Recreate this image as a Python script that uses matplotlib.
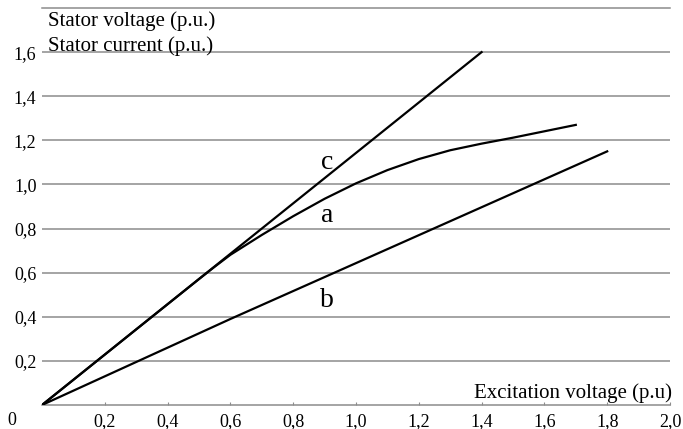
import matplotlib
matplotlib.use("Agg")
import matplotlib.pyplot as plt

# Excitation characteristics (per-unit)
c_x = [0.0, 1.40]
c_y = [0.0, 1.60]

a_x = [0.0, 0.3, 0.5, 0.55, 0.6, 0.7, 0.8, 0.9, 1.0, 1.1, 1.2, 1.3, 1.4, 1.5, 1.6, 1.7]
a_y = [0.0, 0.343, 0.571, 0.627, 0.681, 0.771, 0.856, 0.935, 1.005, 1.065, 1.115, 1.155, 1.185, 1.212, 1.241, 1.27]

b_x = [0.0, 0.3, 0.6, 0.9, 1.2, 1.5, 1.8]
b_y = [0.0, 0.195, 0.39, 0.58, 0.77, 0.96, 1.15]

x_ticks = [0.2, 0.4, 0.6, 0.8, 1.0, 1.2, 1.4, 1.6, 1.8, 2.0]
x_labels = ["0,2", "0,4", "0,6", "0,8", "1,0", "1,2", "1,4", "1,6", "1,8", "2,0"]
y_ticks = [0.2, 0.4, 0.6, 0.8, 1.0, 1.2, 1.4, 1.6]
y_labels = ["0,2", "0,4", "0,6", "0,8", "1,0", "1,2", "1,4", "1,6"]

curve_labels = ["c", "a", "b"]
curve_label_pos = [(0.908, 1.069), (0.908, 0.831), (0.908, 0.443)]

plt.rcParams["font.family"] = ["Liberation Serif", "DejaVu Serif"]

fig = plt.figure(figsize=(6.83, 4.29), dpi=100)
ax = fig.add_axes([42 / 683, 24 / 429, 628 / 683, 397 / 429])
ax.set_xlim(0, 2.0)
ax.set_ylim(0, 1.8)

grid_col = "#8c8c8c"
for side in ("left", "right"):
    ax.spines[side].set_visible(False)
for side in ("top", "bottom"):
    ax.spines[side].set_color(grid_col)
    ax.spines[side].set_linewidth(1.1)

for yv in y_ticks:
    ax.axhline(yv, color=grid_col, lw=1.1, zorder=1)

line_kw = dict(color="black", lw=1.6, zorder=3, solid_joinstyle="round")
ax.plot(c_x, c_y, **line_kw)
ax.plot(a_x, a_y, **line_kw)
ax.plot(b_x, b_y, **line_kw)

ax.set_xticks(x_ticks)
ax.set_xticklabels(x_labels, fontsize=13)
ax.set_yticks(y_ticks)
ax.set_yticklabels(y_labels, fontsize=13)
ax.tick_params(axis="x", direction="in", length=2.5, color=grid_col, pad=6)
ax.tick_params(axis="y", length=0, pad=4)

# origin label on the x-axis row
ax.text(-0.095, -0.03, "0", fontsize=13, ha="center", va="top")

for lab, (lx, ly) in zip(curve_labels, curve_label_pos):
    ax.text(lx, ly, lab, fontsize=20, ha="center", va="baseline")

ax.text(0.02, 1.72, "Stator voltage (p.u.)", fontsize=15, ha="left", va="baseline")
ax.text(0.02, 1.605, "Stator current (p.u.)", fontsize=15, ha="left", va="baseline")
ax.text(2.005, 0.03, "Excitation voltage (p.u)", fontsize=15, ha="right", va="baseline")

fig.savefig("out.png", dpi=100)
